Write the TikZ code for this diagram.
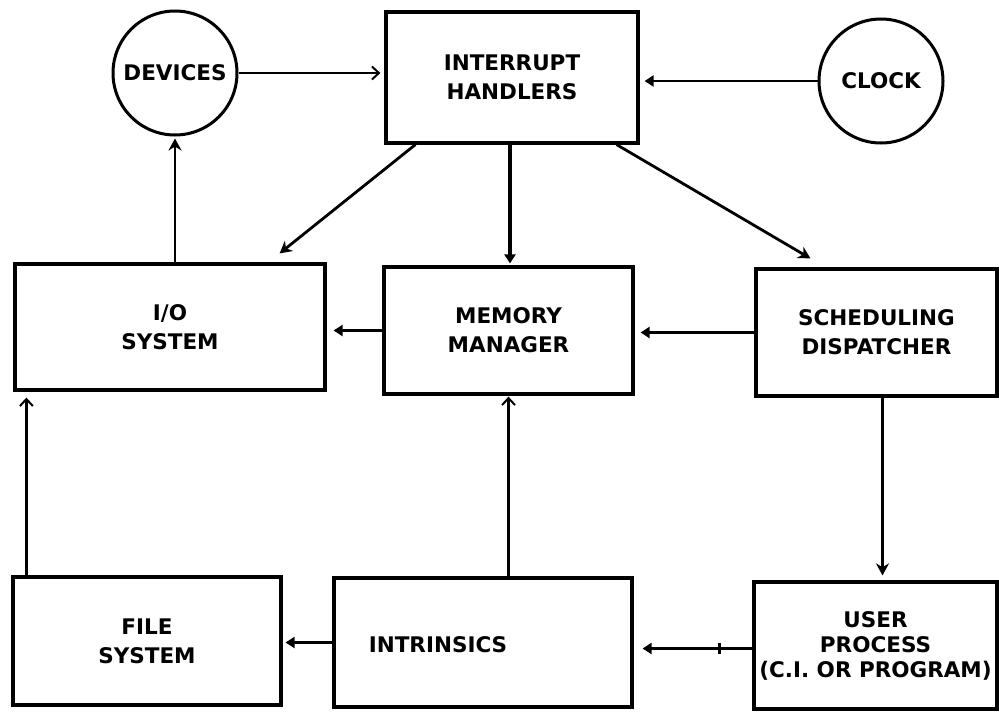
\documentclass[tikz,border=0pt]{standalone}
\usepackage{fontspec}
\setmainfont{DejaVu Sans}
\usetikzlibrary{arrows.meta,calc}

\tikzset{
  lettering/.style={font=\fontsize{21.5}{29}\selectfont\bfseries},
  box/.style={draw, line width=3.2pt, rectangle, inner sep=0pt, align=center, lettering},
  ring/.style={draw, line width=3pt, circle, inner sep=0pt, minimum size=124pt, lettering},
  label/.style={inner sep=0pt, align=center, lettering},
  thin/.style={line width=2.2pt},
  thick/.style={line width=3.6pt},
  barb/.style={-{Straight Barb[length=7pt,width=13pt,line width=2pt]}},
  tri/.style={-{Triangle[length=9pt,width=11pt]}},
  stl/.style={-{Stealth[length=12pt,width=13pt]}},
  tickmark/.style={fill, minimum width=3pt, minimum height=11pt, inner sep=0pt},
}

\begin{document}
\begin{tikzpicture}[x=1pt, y=-1pt]
\useasboundingbox[fill=white] (0,0) rectangle (999,712);

% top row
\node[ring] (dev) at (175,73) {DEVICES};
\node[box, minimum width=252pt, minimum height=131pt] (ih) at (512,77.5) {INTERRUPT\\HANDLERS};
\node[ring] (clk) at (881,81) {CLOCK};

% middle row
\node[box, minimum width=310pt, minimum height=126pt] (io) at (170,327) {I/O\\SYSTEM};
\node[box, minimum width=249pt, minimum height=127pt] (mm) at (508.5,330.5) {MEMORY\\MANAGER};
\node[box, minimum width=241pt, minimum height=127pt] (sd) at (876.5,332.5) {SCHEDULING\\DISPATCHER};

% bottom row
\node[box, minimum width=268pt, minimum height=128pt] (fs) at (147,641) {FILE\\SYSTEM};
\node[box, minimum width=298pt, minimum height=129pt] (in) at (483,642.5) {};
\node[label] (intxt) at (438,645) {INTRINSICS};
\node[box, minimum width=243pt, minimum height=127pt,
      font=\fontsize{21.5}{25}\selectfont\bfseries] (up) at (875.5,645.5)
      {USER\\PROCESS\\(C.I. OR PROGRAM)};

% connectors into the interrupt handlers
\draw[thin, barb, shorten >=4pt] (dev.east) -- (dev.east -| ih.west);
\draw[thin, tri, shorten >=5pt] (clk.west) -- (clk.west -| ih.east);

% interrupt handlers fan out
\draw[line width=2.8pt, stl] ([xshift=31pt]ih.south west) -- ([xshift=-47pt, yshift=9pt]io.north east);
\draw[thick, tri, shorten >=2pt] ([xshift=-2pt]ih.south) -- ([xshift=-2pt]ih.south |- mm.north);
\draw[line width=2.8pt, stl] ([xshift=-23pt]ih.south east) -- ([xshift=56pt, yshift=9pt]sd.north west);

% middle row links
\draw[thin, stl, shorten >=2pt] (dev.south |- io.north) -- (dev.south);
\draw[thin, tri, shorten >=7pt] (mm.west) -- (mm.west -| io.east);
\draw[thin, tri, shorten >=6pt] (sd.west) -- (sd.west -| mm.east);
\draw[thick, stl, shorten >=5pt] ([xshift=6pt]sd.south) -- ([xshift=6pt]sd.south |- up.north);

% bottom row links
\draw[thick, barb, shorten >=6pt] ([xshift=15pt]fs.north west) -- ([xshift=15pt]fs.north west |- io.south);
\draw[thick, barb, shorten >=1pt] (mm.south |- in.north) -- (mm.south);
\draw[thin, tri, shorten >=3pt] (in.west) -- (in.west -| fs.east);
\draw[thin, tri, shorten >=9pt] ([yshift=-3pt]up.west) -- node[tickmark, pos=0.28] {} ([yshift=-3pt]up.west -| in.east);

\end{tikzpicture}
\end{document}
